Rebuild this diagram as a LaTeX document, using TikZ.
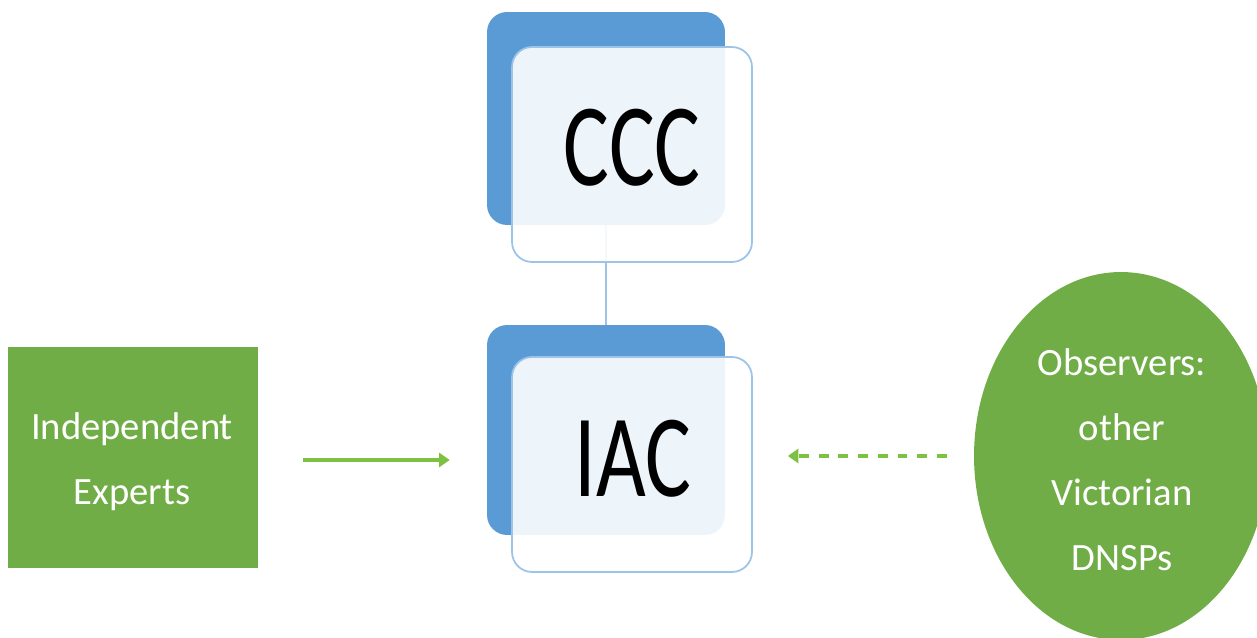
\documentclass[tikz,border=0pt]{standalone}
\usepackage{fontspec}
\setmainfont{Carlito}
\usetikzlibrary{shapes.geometric,arrows.meta,calc}
\definecolor{backblue}{HTML}{5B9BD5}
\definecolor{edgeblue}{HTML}{9DC3E6}
\definecolor{boxgreen}{HTML}{70AD47}
\definecolor{arrgreen}{HTML}{7DC142}
\tikzset{
  backbox/.style={draw=none,fill=backblue,rounded corners=0.4cm,minimum width=4.76cm,minimum height=4.26cm,inner sep=0pt},
  frontbox/.style={draw=edgeblue,line width=1pt,fill=white,fill opacity=0.9,rounded corners=0.4cm,minimum width=4.8cm,minimum height=4.3cm,inner sep=0pt},
  bigtext/.style={font=\fontsize{67}{70}\selectfont,inner sep=0pt,text=black},
  greentext/.style={text=white,align=center,font=\fontsize{22}{37}\selectfont,inner sep=0pt},
  link/.style={draw=edgeblue,line width=1pt},
  flow/.style={draw=arrgreen,line width=2.3pt,-{Triangle[length=6pt,width=8pt]}},
  dflow/.style={draw=arrgreen,line width=1.8pt,dash pattern=on 5.6pt off 5.6pt,-{Triangle[length=6pt,width=8pt]}}
}
\begin{document}
\begin{tikzpicture}[x=0.02cm,y=-0.02cm]
\useasboundingbox (0,0) rectangle (1257,638);
\clip (0,0) rectangle (1257,638);
% CCC
\node[backbox] (cccback) at (606,118.5) {};
\node[backbox,minimum height=4.2cm] (iacback) at (606,430) {};
\draw[link] (cccback.south) -- (iacback.north);
\node[frontbox] (cccfront) at (632,154.5) {};
\node[bigtext] (ccc) at (632,148) {\scalebox{0.73}[1]{CCC}};
\node[frontbox] (iacfront) at (632,464.5) {};
\node[bigtext] (iac) at (633,459) {\scalebox{0.73}[1]{IAC}};
% Independent experts
\node[fill=boxgreen,minimum width=5cm,minimum height=4.42cm,inner sep=0pt] (ie) at (133,457.5) {};
\node[greentext] (ietext) at (132,462) {Independent\\Experts};
% Observers
\node[ellipse,fill=boxgreen,minimum width=5.88cm,minimum height=7.36cm,inner sep=0pt] (obs) at (1121,456) {};
\node[greentext] (obstext) at (1122,460) {Observers:\\other\\Victorian\\DNSPs};
% arrows
\draw[flow,shorten <=0.9cm,shorten >=0.74cm] (ie.east) ++(0,2.5) coordinate (ies) -- (ies -| iacback.west);
\draw[dflow,shorten <=0.54cm,shorten >=0.7cm] (obs.west) -- (obs.west -| iacfront.east);
\end{tikzpicture}
\end{document}
